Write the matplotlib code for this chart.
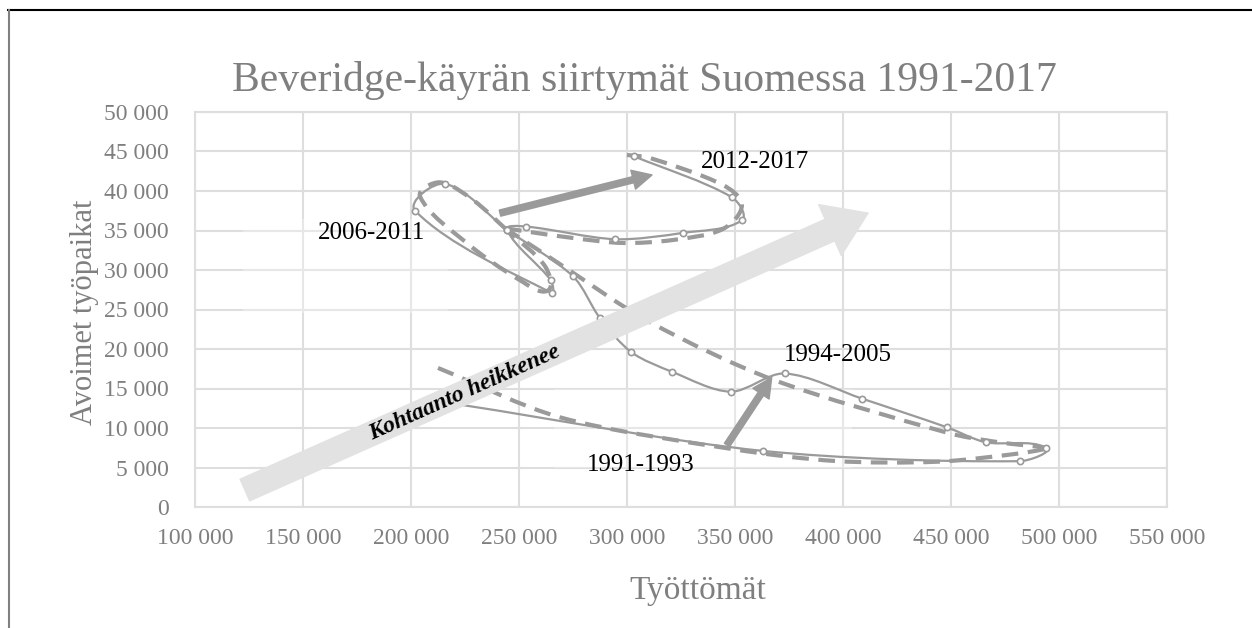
import numpy as np
import matplotlib.pyplot as plt
from matplotlib.path import Path
from matplotlib.patches import PathPatch
from matplotlib.lines import Line2D
from matplotlib.ticker import FuncFormatter, MultipleLocator

# unemployed (x) and job vacancies (y), 1991-2017
tyottomat = [224000, 363000, 482000, 494000, 466000, 448000, 409000, 373000,
             348000, 321000, 302000, 287500, 275000, 244400, 215700, 201900,
             265100, 264700, 244400, 253200, 294400, 325900, 353200, 348600,
             303200]
avoimet = [12900, 7100, 5800, 7500, 8200, 10100, 13700, 16900,
           14600, 17100, 19600, 23900, 29200, 35100, 40900, 37500,
           27100, 28700, 35100, 35500, 33900, 34700, 36300, 39200,
           44400]

# dashed trend curves for each period
trend_91_x = [212500, 269000, 348600, 396500, 444300, 483300, 495800]
trend_91_y = [17600, 11350, 7340, 5820, 5740, 6840, 7470]
trend_94_x = [243500, 268100, 310600, 367800, 449000, 471300, 495800]
trend_94_y = [35300, 30900, 23400, 16100, 9350, 8230, 7470]
trend_06_x = [244400, 229000, 213400, 204200, 225900, 250500, 263400, 262000, 244400]
trend_06_y = [35060, 38800, 41100, 39300, 33400, 28700, 27400, 30500, 35060]
trend_12_x = [243500, 251900, 275000, 298100, 321300, 344400, 353200, 344400, 310600, 300000]
trend_12_y = [35300, 34940, 34050, 33420, 33800, 35190, 38230, 40760, 44180, 44560]

jaksot = ["1991-1993", "1994-2005", "2006-2011", "2012-2017"]
jakso_x = [306500, 397700, 181900, 359300]
jakso_y = [5320, 19240, 34680, 43670]

GRAY = "#9a9a9a"
SX = 108 / 50000   # px per x unit
SY = 39.5 / 5000   # px per y unit


def smooth_path(xs, ys, k=0.3):
    # Excel-like smoothed line: cubic bezier, handles scaled by segment length
    p = np.column_stack([np.array(xs) * SX, np.array(ys) * SY]).astype(float)
    n = len(p)
    tang = []
    for i in range(n):
        a = p[i - 1] if i > 0 else p[i]
        b = p[i + 1] if i < n - 1 else p[i]
        d = b - a
        tang.append(d / (np.hypot(*d) or 1))
    verts = [p[0]]
    codes = [Path.MOVETO]
    for i in range(n - 1):
        seg = np.hypot(*(p[i + 1] - p[i]))
        verts += [p[i] + tang[i] * seg * k, p[i + 1] - tang[i + 1] * seg * k, p[i + 1]]
        codes += [Path.CURVE4] * 3
    verts = np.array(verts) / [SX, SY]
    return Path(verts, codes)


plt.rcParams['font.family'] = ['Liberation Serif', 'DejaVu Serif']

fig = plt.figure(figsize=(12.52, 6.28), dpi=100)
ax = fig.add_axes([195 / 1252, 1 - 507 / 628, 972 / 1252, 395 / 628])
ax.set_xlim(100000, 550000)
ax.set_ylim(0, 50000)
ax.xaxis.set_major_locator(MultipleLocator(50000))
ax.yaxis.set_major_locator(MultipleLocator(5000))
fmt = FuncFormatter(lambda v, p: f"{int(v):,}".replace(",", " "))
ax.xaxis.set_major_formatter(fmt)
ax.yaxis.set_major_formatter(fmt)
ax.grid(True, color="#dedede", lw=1.5)
ax.set_axisbelow(True)
for s in ax.spines.values():
    s.set_color("#dedede")
    s.set_linewidth(1.5)
ax.tick_params(length=0, labelsize=17, labelcolor="#7f7f7f")
ax.tick_params(axis="x", pad=15)
ax.tick_params(axis="y", pad=19)

# faint text-box backgrounds
for x0, y0, w, h in [(122000, 24500, 95000, 12000), (266000, 5000, 138000, 10000)]:
    ax.add_patch(plt.Rectangle((x0, y0), w, h, fc="white", ec="none", alpha=0.3, zorder=1))

# trend curves
for tx, ty in [(trend_91_x, trend_91_y), (trend_94_x, trend_94_y),
               (trend_06_x, trend_06_y), (trend_12_x, trend_12_y)]:
    ax.add_patch(PathPatch(smooth_path(tx, ty), fill=False, ec=GRAY, lw=3,
                           ls=(0, (4, 2.3)), capstyle="butt", zorder=3))

# actual path
ax.add_patch(PathPatch(smooth_path(tyottomat, avoimet), fill=False, ec=GRAY,
                       lw=1.6, zorder=4))
ax.plot(tyottomat[1:], avoimet[1:], ls="none", marker="o", ms=4.5, mfc="white",
        mec=GRAY, mew=1.2, zorder=5)

# big light arrow
ax.annotate("", xy=(411600, 37200), xytext=(123100, 2150),
            arrowprops=dict(arrowstyle="simple,head_width=40,head_length=30,tail_width=17",
                            color="#e2e2e2", mutation_scale=1, shrinkA=0, shrinkB=0),
            zorder=6)
ax.text(225000, 14430, "Kohtaanto heikkenee", fontsize=17, style="italic",
        weight="bold", rotation=24, ha="center", va="center",
        rotation_mode="anchor", zorder=7)

# shift arrows
for tail, head in [((241200, 37200), (311600, 42030)),
                   ((346300, 7850), (367000, 16400))]:
    ax.annotate("", xy=head, xytext=tail,
                arrowprops=dict(arrowstyle="simple,head_width=14,head_length=14,tail_width=4.5",
                                color=GRAY, mutation_scale=1, shrinkA=0, shrinkB=0),
                zorder=7)

for lab, x, y in zip(jaksot, jakso_x, jakso_y):
    ax.text(x, y, lab, fontsize=18, ha="center", va="center", color="black", zorder=8)

fig.text(644 / 1252, 1 - 80 / 628, "Beveridge-käyrän siirtymät Suomessa 1991-2017",
         fontsize=30, color="#7f7f7f", ha="center", va="center")
fig.text(85 / 1252, 1 - 312 / 628, "Avoimet työpaikat", fontsize=22, color="#7f7f7f",
         rotation=90, ha="center", va="center")
fig.text(698 / 1252, 1 - 591 / 628, "Työttömät", fontsize=24, color="#7f7f7f",
         ha="center", va="center")

# outer frame (top and left edges visible)
fig.add_artist(Line2D([8 / 1252, 1], [1 - 10 / 628] * 2, color="black", lw=1.5))
fig.add_artist(Line2D([9 / 1252] * 2, [0, 1 - 10 / 628], color="#808080", lw=1.5))

fig.savefig("out.png", dpi=100)
